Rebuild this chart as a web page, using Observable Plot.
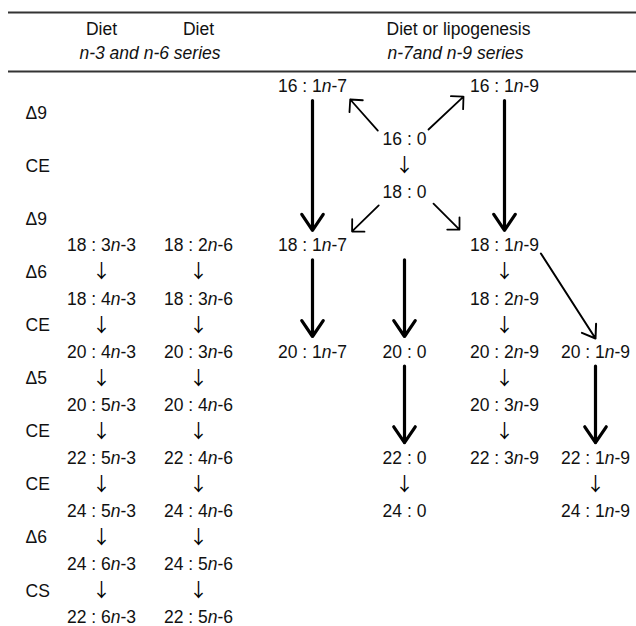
<!DOCTYPE html>
<html>
<head>
<meta charset="utf-8">
<script src="https://cdn.jsdelivr.net/npm/d3@7"></script>
<script src="https://cdn.jsdelivr.net/npm/@observablehq/plot@0.6"></script>
<style>
  html, body { margin: 0; padding: 0; background: #fff; }
  svg { display: block; }
</style>
</head>
<body>
<div id="chart"></div>
<script>
// ---- Data -------------------------------------------------------------
// Column index: -1 = enzymatic step labels, 0 = n-3, 1 = n-6, 2 = n-7,
// 3 = saturated, 4 = n-9, 5 = n-9 elongation branch. Row index = step.
const stepLabels = ["Δ9", "CE", "Δ9", "Δ6", "CE", "Δ5", "CE", "CE", "Δ6", "CS"];
const stepRows   = [1, 3, 5, 7, 9, 11, 13, 15, 17, 19];

const n3Labels = ["18 : 3n-3", "18 : 4n-3", "20 : 4n-3", "20 : 5n-3", "22 : 5n-3", "24 : 5n-3", "24 : 6n-3", "22 : 6n-3"];
const n6Labels = ["18 : 2n-6", "18 : 3n-6", "20 : 3n-6", "20 : 4n-6", "22 : 4n-6", "24 : 4n-6", "24 : 5n-6", "22 : 5n-6"];
const n3n6Rows = [6, 8, 10, 12, 14, 16, 18, 20];

const n7Labels  = ["16 : 1n-7", "18 : 1n-7", "20 : 1n-7"];
const n7Rows    = [0, 6, 10];
const satLabels = ["16 : 0", "18 : 0", "20 : 0", "22 : 0", "24 : 0"];
const satRows   = [2, 4, 10, 14, 16];
const n9Labels  = ["16 : 1n-9", "18 : 1n-9", "18 : 2n-9", "20 : 2n-9", "20 : 3n-9", "22 : 3n-9"];
const n9Rows    = [0, 6, 8, 10, 12, 14];
const n9bLabels = ["20 : 1n-9", "22 : 1n-9", "24 : 1n-9"];
const n9bRows   = [10, 14, 16];

const headerTop = ["Diet", "Diet", "Diet or lipogenesis"];
const headerTopCols = [0, 1, 3.54];
const headerSub = ["n-3 and n-6 series", "n-7and n-9 series"];
const headerSubCols = [0.5, 3.51];

// long (bold) conversions: column, from row, to row
const longCols = [2, 4, 2, 3, 3, 5];
const longFrom = [0, 0, 6, 6, 10, 10];
const longTo   = [6, 6, 10, 10, 14, 14];

// short desaturation arrows around 16:0 / 18:0 (diagram units: column, row)
const diagX1 = [2.71, 3.24, 2.72, 3.29];
const diagY1 = [1.66, 1.62, 4.48, 4.41];
const diagX2 = [2.41, 3.59, 2.43, 3.55];
const diagY2 = [0.49, 0.38, 5.46, 5.39];

// branch 18:1n-9 -> 20:1n-9
const branchX1 = [4.40], branchY1 = [6.29], branchX2 = [5], branchY2 = [9.49];

// ---- Build tables -------------------------------------------------------
const columnSeries = [
  [n3Labels, n3n6Rows, 0],
  [n6Labels, n3n6Rows, 1],
  [n7Labels, n7Rows, 2],
  [satLabels, satRows, 3],
  [n9Labels, n9Rows, 4],
  [n9bLabels, n9bRows, 5]
];
const nodes = [];
const stepArrows = [];
for (const [labels, rows, col] of columnSeries) {
  labels.forEach((label, i) => {
    nodes.push({label, col, row: rows[i]});
    if (i > 0 && rows[i] - rows[i - 1] === 2) stepArrows.push({col, row: rows[i] - 1});
  });
}
const steps = stepLabels.map((label, i) => ({label, row: stepRows[i]}));
const hTop = headerTop.map((label, i) => ({label, col: headerTopCols[i]}));
const hSub = headerSub.map((label, i) => ({label, col: headerSubCols[i]}));
const longArrows = longCols.map((col, i) => ({col, from: longFrom[i], to: longTo[i]}));
const diagArrows = diagX1.map((x1, i) => ({x1, y1: diagY1[i], x2: diagX2[i], y2: diagY2[i]}));
const branchArrows = branchX1.map((x1, i) => ({x1, y1: branchY1[i], x2: branchX2[i], y2: branchY2[i]}));

// layout: column / row index -> position (piecewise)
const colLayout = d3.scaleLinear().domain([-1, 0, 1, 2, 3, 4, 5]).range([25, 101, 198, 312, 404, 504, 595]);
const rowLayout = d3.scaleLinear().domain([-4, -3, -2, -1, 0, 20]).range([12, 29, 52.5, 71, 86, 617]);

const FS = 17.5;
const plot = Plot.plot({
  width: 636,
  height: 626,
  marginLeft: 8, marginRight: 0, marginTop: 0, marginBottom: 0,
  x: {axis: null, type: "linear", transform: colLayout, domain: [0, 636], range: [0, 636]},
  y: {axis: null, type: "linear", transform: rowLayout, domain: [0, 626], range: [0, 626]},
  style: {fontFamily: '"Liberation Sans", Arial, Helvetica, sans-serif', background: "#fff", color: "#111"},
  marks: [
    Plot.ruleY([-4, -1], {stroke: "#333", strokeWidth: 2}),
    Plot.text(hTop, {x: "col", y: () => -3, text: "label", fontSize: FS, fill: "#111"}),
    Plot.text(hSub, {x: "col", y: () => -2, text: "label", fontSize: FS, fontStyle: "italic", fill: "#111"}),
    Plot.text(steps, {x: () => -1, y: "row", text: "label", textAnchor: "start", fontSize: FS, fill: "#111"}),
    Plot.text(nodes, {x: "col", y: "row", text: "label", fontSize: FS, fill: "#111"}),
    Plot.text(stepArrows, {x: "col", y: "row", text: () => "\u2193", fontSize: 19,
      fontFamily: '"Noto Sans CJK SC", "DejaVu Sans", sans-serif', fill: "#000"}),
    Plot.arrow(longArrows, {x1: "col", x2: "col", y1: "from", y2: "to", insetStart: 14, insetEnd: 15.5,
      stroke: "#000", strokeWidth: 3.2, headLength: 9, headAngle: 68}),
    Plot.arrow(diagArrows, {x1: "x1", y1: "y1", x2: "x2", y2: "y2",
      stroke: "#000", strokeWidth: 1.8, headLength: 10.5, headAngle: 90}),
    Plot.arrow(branchArrows, {x1: "x1", y1: "y1", x2: "x2", y2: "y2",
      stroke: "#000", strokeWidth: 2, headLength: 11, headAngle: 70})
  ]
});

// italicise the "n" in the fatty-acid notation
plot.querySelectorAll("text").forEach((t) => {
  const m = /^(.*\d)n(-\d+)$/.exec(t.textContent);
  if (!m) return;
  t.textContent = "";
  t.append(document.createTextNode(m[1]));
  const it = document.createElementNS("http://www.w3.org/2000/svg", "tspan");
  it.setAttribute("font-style", "italic");
  it.textContent = "n";
  t.append(it);
  t.append(document.createTextNode(m[2]));
});

document.getElementById("chart").append(plot);
</script>
</body>
</html>
